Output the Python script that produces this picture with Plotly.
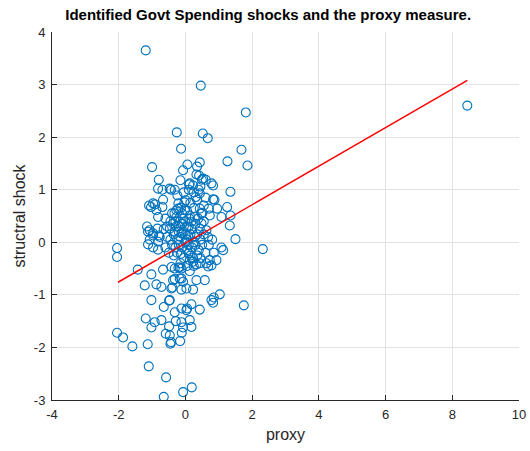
import plotly.graph_objects as go

# scatter data: proxy (x) vs structural shock (y)
proxy = [
    -1.19, 0.46, 1.81, 8.45, -0.26, 0.52, 0.67, -0.13, 1.68, -1.00, 0.06, 0.43, 0.35, -0.07, 1.26, 1.86,
    -0.80, -0.15, 0.41, 0.33, 0.13, 0.23, 0.53, 0.78, 0.83, 1.35, -0.82, -0.69, -0.47, -0.32, -0.24, -0.67,
    -1.09, -0.97, -0.87, -0.69, -0.82, -0.22, 0.01, -0.02, 0.31, 0.35, 0.43, 0.43, 0.48, 0.73, 0.70, 0.87,
    0.95, 1.25, 1.35, 1.08, 1.33, 1.50, -1.15, -1.07, -0.97, -0.77, -0.47, -0.37, -0.27, -0.17, -0.07, 0.03,
    0.18, 0.28, 0.13, -0.32, -0.12, 0.08, 0.28, 0.43, 0.63, 0.68, 0.48,
    1.08, 0.93, 0.73, 0.63, 0.78, 0.43, 0.23, 0.13, -0.17, -0.32, -0.42, -0.67, -1.02, -1.22, -0.87, -0.72,
    -0.37, -0.17, -0.07, -0.42, -0.12, 0.03, 0.23, 0.33, 0.58, 1.03, 0.78, 0.83, 1.75, -1.02, -0.47, -0.65,
    -0.32, -0.12, 0.03, 0.18, 0.43, -1.19, -0.92, -0.72, -0.29, -0.12, 0.13, -1.02, -0.07, 0.18,
    -2.05, -2.05, 2.32, -1.43, -0.49, -0.49, -0.59, -0.47, -0.43, -0.45, -0.16, -0.11, 0.05, 0.85,
    -2.05, -1.87, -1.59, -1.13, -1.10, -0.58, -0.65, -0.07, 0.19, 1.13, -0.21, -0.12, 0.33, 0.68,
    -0.12, -0.32, -0.39, -0.14, 0.13, 0.23, 0.10, -0.97, -0.82, -1.12, -1.07, -0.79, -0.82, -1.12, -0.97, -0.84,
    0.40, 0.11, 0.49, 0.61, 0.45, 0.83, -0.43, -1.03, -0.91, -0.21, -0.03, -0.13, -0.27, -0.33, 0.51,
    -0.40, -0.30, -0.20, -0.10, 0.00, 0.10, 0.20, 0.30, -0.35, -0.25, -0.15, -0.05, 0.05, 0.15, 0.25, 0.35,
    0.45, 0.55, -0.45, -0.40, -0.30, -0.20, -0.10, 0.00, 0.10, 0.20, 0.30, 0.40, 0.50, 0.60, -0.50, -0.35,
    -0.25, -0.05, 0.05, 0.15, 0.35, 0.45, -0.10, 0.05, -0.20, 0.00, 0.12, -0.28, 0.38, 0.55, -0.45, -0.55,
    -0.15, 0.05, 0.25, -0.60, -0.55, 0.70, 0.80, 0.85, -0.05, 0.15, 0.25, 0.55, 0.60, 0.25, 0.10, -0.60, -0.65,
]
shock = [
    3.65, 2.98, 2.47, 2.60, 2.09, 2.07, 1.98, 1.78, 1.76, 1.43, 1.48, 1.52, 1.44, 1.37, 1.54, 1.46,
    1.19, 1.18, 1.27, 1.29, 1.12, 1.08, 1.21, 1.12, 1.08, 0.96, 1.02, 1.00, 1.02, 1.00, 0.89, 0.81,
    0.70, 0.74, 0.61, 0.67, 0.48, 0.64, 0.80, 0.61, 0.86, 0.81, 0.93, 0.64, 0.55, 0.51, 0.64, 0.81,
    0.64, 0.67, 0.51, 0.48, 0.32, 0.06, 0.30, 0.23, 0.13, 0.10, 0.26, 0.36, 0.48, 0.39, 0.45, 0.29,
    0.39, 0.48, 0.51, 0.20, 0.17, 0.13, 0.10, 0.26, 0.23, 0.10, 0.36,
    -0.10, -0.34, -0.34, -0.40, -0.44, -0.40, -0.37, -0.55, -0.48, -0.50, -0.47, -0.52, -0.61, -0.82, -0.80, -0.85,
    -0.72, -0.69, -0.75, -0.88, -0.90, -0.88, -0.90, -0.72, -0.72, -0.99, -1.10, -1.15, -1.20, -1.10, -1.10, -1.23,
    -1.33, -1.26, -1.29, -1.18, -1.28, -1.45, -1.52, -1.48, -1.50, -1.52, -1.48, -1.62, -1.62, -1.61,
    -0.11, -0.28, -0.13, -0.52, -1.11, -1.60, -1.74, -1.77, -1.90, -1.93, -1.88, -1.72, -1.26, -1.05,
    -1.72, -1.81, -1.98, -1.94, -2.36, -2.57, -2.94, -2.85, -2.76, -0.15, -0.48, -0.50, -0.42, -0.46,
    -0.69, -0.70, -0.86, -0.22, -0.34, -0.30, -0.21, -0.10, -0.14, -0.04, 0.05, 0.13, 0.01, 0.20, 0.17, 0.26,
    1.00, 1.10, 1.19, 1.19, 1.06, 0.82, 1.00, 0.67, 0.72, 0.74, 0.76, 0.66, 0.61, 0.55, 0.56,
    0.55, 0.40, 0.30, 0.35, 0.40, 0.30, 0.25, 0.35, 0.15, 0.05, 0.10, 0.20, 0.05, 0.15, 0.00, 0.15,
    0.05, 0.15, 0.05, -0.05, -0.10, -0.05, -0.10, 0.00, -0.05, -0.10, -0.05, -0.15, -0.05, -0.20, -0.20, -0.25,
    -0.20, -0.30, -0.15, -0.25, -0.25, -0.30, 0.55, 0.60, 0.20, 0.15, 0.45, 0.30, 0.45, 0.40, 0.40, 0.30,
    -0.40, -0.45, -0.45, -0.10, 0.10, -0.05, 0.05, -0.20, 0.95, 0.75, 0.65, 0.70, 0.85, 0.95, 1.00, 0.45, 0.25,
]

# fitted regression line endpoints
fit_x = [-2.02, 8.45]
fit_y = [-0.76, 3.08]

x_ticks = [-4, -2, 0, 2, 4, 6, 8, 10]
y_ticks = [-3, -2, -1, 0, 1, 2, 3, 4]

FONT = "Liberation Sans, Arial, sans-serif"

fig = go.Figure()
fig.add_trace(go.Scatter(
    x=proxy, y=shock, mode="markers",
    marker=dict(symbol="circle-open", size=9, color="#0072BD", line=dict(width=1.1, color="#0072BD")),
    showlegend=False, hoverinfo="skip",
))
fig.add_trace(go.Scatter(
    x=fit_x, y=fit_y, mode="lines",
    line=dict(color="#FF0000", width=1.5),
    showlegend=False, hoverinfo="skip",
))

axis_common = dict(
    showgrid=True, gridcolor="#e3e3e3", gridwidth=1,
    zeroline=False, showline=True, linecolor="#262626", linewidth=1,
    ticks="inside", ticklen=5, tickcolor="#262626",
    tickfont=dict(family=FONT, size=13, color="#262626"),
    mirror=False, automargin=False,
)

fig.update_layout(
    width=530, height=451,
    margin=dict(l=52, r=11, t=32, b=51),
    paper_bgcolor="white", plot_bgcolor="white",
    title=dict(
        text="<b>Identified Govt Spending shocks and the proxy measure.</b>",
        x=0.506, xanchor="center", xref="container", y=0.968, yanchor="middle",
        font=dict(family=FONT, size=15, color="black"),
    ),
    xaxis=dict(
        range=[-4, 10], tickvals=x_ticks, ticktext=[str(v) for v in x_ticks],
        ticklabelstandoff=2,
        title=dict(text="proxy", standoff=8, font=dict(family=FONT, size=16, color="#262626")),
        **axis_common,
    ),
    yaxis=dict(
        range=[-3, 4], tickvals=y_ticks, ticktext=[str(v) for v in y_ticks],
        ticklabelstandoff=3,
        title=dict(text="structral shock", standoff=4, font=dict(family=FONT, size=16, color="#262626")),
        **axis_common,
    ),
)

fig.write_html("out.html")
